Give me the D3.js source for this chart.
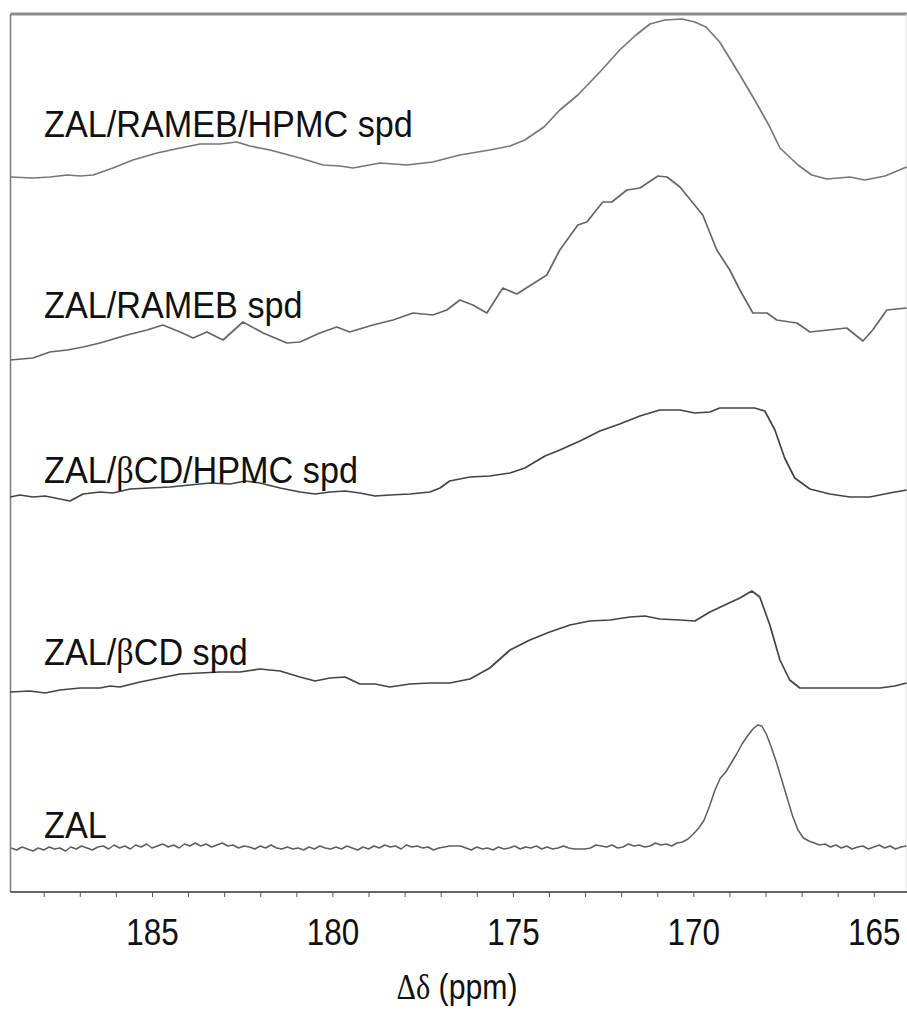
<!DOCTYPE html>
<html>
<head>
<meta charset="utf-8">
<script src="https://cdn.jsdelivr.net/npm/d3@7/dist/d3.min.js"></script>
<style>
  html, body { margin: 0; padding: 0; background: #fff; }
  svg { display: block; }
</style>
</head>
<body>
<svg id="chart" width="907" height="1012"></svg>
<script>
// 13C solid-state NMR carbonyl region, stacked spectra (chemical shift in ppm, intensity in a.u.)
const sampleNames = ["ZAL/RAMEB/HPMC spd", "ZAL/RAMEB spd", "ZAL/\u03B2CD/HPMC spd", "ZAL/\u03B2CD spd", "ZAL"];
const stackOffsets = [715, 534, 395, 201, 44];
const xTickValues = [185, 180, 175, 170, 165];
const xMinorTicks = [188, 187, 186, 185, 184, 183, 182, 181, 180, 179, 178, 177, 176, 175, 174, 173, 172, 171, 170, 169, 168, 167, 166, 165];

const zalRamebHpmc = [
  [188.93,0],[188.30,-1],[187.83,0],[187.35,2],[186.99,1],[186.63,2],[186.08,9],[185.53,17],
  [184.86,24],[184.22,29],[183.67,33],[183.12,33],[182.65,35],[182.29,31],[181.73,27],[180.90,19],
  [180.26,12],[179.79,11],[179.43,9],[178.68,14],[177.94,12],[177.22,15],[176.47,22],[175.64,27],
  [175.08,31],[174.67,37],[174.14,50],[173.70,67],[173.20,82],[172.59,105],[172.04,127],[171.59,142],
  [171.20,153],[170.79,157],[170.32,158],[169.96,155],[169.65,150],[169.27,135],[168.71,102],[168.30,77],
  [167.91,52],[167.60,29],[167.10,12],[166.72,2],[166.30,-2],[165.66,0],[165.25,-3],[164.69,1],[164.09,10]
];

const zalRameb = [
  [188.93,-2],[188.30,0],[187.83,6],[187.35,8],[186.91,11],[186.44,15],[186.16,18],[185.69,23],
  [185.14,28],[184.70,33],[184.22,26],[183.86,20],[183.48,26],[183.03,18],[182.48,36],[181.92,25],
  [181.26,15],[180.90,16],[180.35,25],[179.88,31],[179.52,26],[178.88,33],[178.32,38],[177.77,45],
  [177.22,43],[176.83,48],[176.47,58],[176.11,53],[175.72,45],[175.28,70],[174.89,64],[174.06,83],
  [173.70,108],[173.20,133],[172.95,136],[172.51,156],[172.26,156],[171.84,168],[171.48,170],[170.98,182],
  [170.73,181],[170.37,171],[169.74,143],[169.35,108],[168.99,88],[168.71,68],[168.35,45],[167.96,45],
  [167.69,38],[167.13,35],[166.77,26],[165.75,30],[165.30,17],[165.03,28],[164.64,48],[164.09,50]
];

const zalBcdHpmc = [
  [188.93,0],[188.66,2],[188.30,0],[187.96,1],[187.55,-2],[187.27,-4],[186.91,3],[186.44,5],
  [186.08,4],[185.61,8],[185.06,9],[184.50,10],[183.95,12],[183.39,14],[182.84,13],[182.42,16],
  [182.01,14],[181.45,9],[180.90,5],[180.48,3],[180.07,5],[179.65,6],[179.24,4],[178.82,1],
  [178.41,2],[177.85,3],[177.30,5],[177.02,9],[176.75,16],[176.19,20],[175.64,21],[175.08,24],
  [174.67,29],[174.11,41],[173.70,47],[173.14,56],[172.59,66],[172.04,73],[171.48,81],[170.93,87],
  [170.37,87],[169.96,84],[169.54,85],[169.27,89],[168.71,89],[168.30,89],[168.02,86],[167.74,67],
  [167.47,39],[167.19,19],[166.77,8],[166.22,3],[165.66,0],[165.11,0],[164.56,4],[164.09,7]
];

const zalBcd = [
  [188.93,-1],[188.38,0],[187.96,-2],[187.55,1],[186.99,3],[186.44,3],[186.16,5],[185.89,4],
  [185.33,9],[184.78,13],[184.22,17],[183.67,18],[183.12,19],[182.56,19],[182.01,22],[181.45,20],
  [180.90,14],[180.48,10],[180.07,13],[179.65,14],[179.24,7],[178.82,7],[178.41,4],[177.85,7],
  [177.30,8],[176.75,8],[176.19,12],[175.64,23],[175.08,41],[174.53,51],[173.98,59],[173.42,66],
  [172.87,70],[172.31,71],[171.76,74],[171.34,75],[170.93,72],[170.37,71],[169.96,70],[169.54,79],
  [169.13,86],[168.71,93],[168.38,100],[168.16,94],[167.88,66],[167.60,31],[167.33,11],[167.05,3],
  [166.50,3],[165.94,3],[165.39,3],[164.83,3],[164.42,5],[164.09,8]
];

const zalPure = [
  [188.90,0],[188.75,-2],[188.60,1],[188.45,-1],[188.30,-3],[188.15,0],[188.00,-2],[187.85,1],
  [187.70,-1],[187.55,0],[187.40,-3],[187.25,1],[187.10,-1],[186.95,2],[186.80,0],[186.65,-2],
  [186.50,1],[186.35,2],[186.20,-1],[186.05,3],[185.90,0],[185.75,2],[185.60,-1],[185.45,3],
  [185.30,1],[185.15,4],[185.00,0],[184.85,2],[184.70,4],[184.55,1],[184.40,3],[184.25,0],
  [184.10,4],[183.95,2],[183.80,5],[183.65,2],[183.50,4],[183.35,1],[183.20,3],[183.05,5],
  [182.90,2],[182.75,3],[182.60,0],[182.45,2],[182.30,1],[182.15,-1],[182.00,2],[181.85,0],
  [181.70,3],[181.55,0],[181.40,-1],[181.25,1],[181.10,-1],[180.95,0],[180.80,-2],[180.65,1],
  [180.50,-1],[180.35,2],[180.20,0],[180.05,-1],[179.90,1],[179.75,-1],[179.60,2],[179.45,0],
  [179.30,-2],[179.15,1],[179.00,-1],[178.85,2],[178.70,0],[178.55,3],[178.40,1],[178.25,2],
  [178.10,-1],[177.95,3],[177.80,1],[177.65,2],[177.50,0],[177.35,1],[177.20,-2],[177.05,0],
  [176.90,1],[176.75,2],[176.60,2],[176.45,2],[176.30,0],[176.15,-2],[176.00,1],[175.85,-1],
  [175.70,0],[175.55,-2],[175.40,1],[175.25,-1],[175.10,0],[174.95,2],[174.80,-1],[174.65,1],
  [174.50,0],[174.35,2],[174.20,-1],[174.05,1],[173.90,-1],[173.75,0],[173.60,2],[173.45,0],
  [173.30,-1],[173.15,-1],[173.00,-1],[172.85,0],[172.70,3],[172.55,2],[172.40,1],[172.25,3],
  [172.10,0],[171.95,1],[171.80,4],[171.65,2],[171.50,3],[171.35,1],[171.20,2],[171.05,5],
  [170.90,3],[170.75,4],[170.60,2],[170.45,5],[170.30,6],[170.15,9],[170.00,14],[169.85,20],
  [169.70,28],[169.55,42],[169.40,58],[169.25,70],[169.10,76],[168.95,85],[168.80,94],[168.65,104],
  [168.50,112],[168.35,119],[168.22,123],[168.10,122],[167.98,114],[167.85,102],[167.70,86],[167.55,68],
  [167.40,50],[167.25,32],[167.10,18],[166.95,10],[166.80,7],[166.65,5],[166.50,3],[166.35,4],
  [166.20,1],[166.05,3],[165.90,0],[165.75,2],[165.60,-1],[165.45,1],[165.30,2],[165.15,-1],
  [165.00,1],[164.85,3],[164.70,0],[164.55,2],[164.40,-1],[164.25,1],[164.10,2]
];

const spectra = [zalRamebHpmc, zalRameb, zalBcdHpmc, zalBcd, zalPure];
const traceColors = ["#777777", "#666666", "#444444", "#444444", "#5e5e5e"];
const labelBaselines = [137, 318, 483, 665, 838];

const svg = d3.select("#chart");
const plot = { left: 10.5, right: 907, top: 14, bottom: 892 };

// reversed chemical shift axis, as is customary for NMR
const x = d3.scaleLinear().domain([188.92, 164.08]).range([plot.left, plot.right]);
const y = d3.scaleLinear().domain([0, 878]).range([plot.bottom, plot.top]);

// frame
svg.append("line").attr("x1", plot.left).attr("x2", plot.right)
  .attr("y1", plot.top).attr("y2", plot.top)
  .attr("stroke", "#8c8c8c").attr("stroke-width", 3);
svg.append("line").attr("x1", plot.left).attr("x2", plot.left)
  .attr("y1", plot.top).attr("y2", plot.bottom)
  .attr("stroke", "#7a7a7a").attr("stroke-width", 1.5);
svg.append("line").attr("x1", 906).attr("x2", 906)
  .attr("y1", plot.top).attr("y2", plot.bottom)
  .attr("stroke", "#e2e2e2").attr("stroke-width", 1);

// spectra
const line = d3.line()
  .x(d => x(d[0]))
  .y(d => d[1]);

spectra.forEach((s, i) => {
  svg.append("path")
    .datum(s.map(p => [p[0], y(stackOffsets[i] + p[1])]))
    .attr("fill", "none")
    .attr("stroke", traceColors[i])
    .attr("stroke-width", i === 4 ? 1.5 : 1.7)
    .attr("stroke-linejoin", "round")
    .attr("d", line);
});

// sample labels (narrow-set sans, as in the original figure)
sampleNames.forEach((name, i) => {
  const t = svg.append("text")
    .attr("transform", `translate(44,${labelBaselines[i]}) scale(0.925,1)`)
    .attr("font-family", "Liberation Sans, Arial, sans-serif")
    .attr("font-size", 37).attr("fill", "#111");
  const parts = name.split("\u03B2");
  parts.forEach((p, k) => {
    if (k > 0) t.append("tspan").attr("font-family", "Liberation Serif, serif").text("\u03B2");
    t.append("tspan").text(p);
  });
});

// bottom axis
const axis = d3.axisBottom(x)
  .tickValues(xMinorTicks)
  .tickSize(5)
  .tickFormat(d => xTickValues.includes(d) ? d : "");
const gAxis = svg.append("g").attr("transform", `translate(0,${plot.bottom})`).call(axis);
gAxis.select(".domain").attr("stroke", "#333").attr("stroke-width", 1.6)
  .attr("d", `M${plot.left},0H${plot.right}`);
gAxis.selectAll(".tick line").attr("stroke", "#555").attr("stroke-width", 1);
gAxis.selectAll(".tick text")
  .attr("font-family", "Liberation Sans, Arial, sans-serif")
  .attr("font-size", 37).attr("fill", "#111")
  .attr("dy", 0).attr("y", 0)
  .attr("transform", "translate(0,53) scale(0.85,1)");

// axis title
const title = svg.append("text")
  .attr("transform", "translate(457,999) scale(0.84,1)")
  .attr("text-anchor", "middle")
  .attr("font-family", "Liberation Sans, Arial, sans-serif")
  .attr("font-size", 36).attr("fill", "#111");
title.append("tspan").attr("font-family", "Liberation Serif, serif").text("\u0394\u03B4");
title.append("tspan").text(" (ppm)");
</script>
</body>
</html>
